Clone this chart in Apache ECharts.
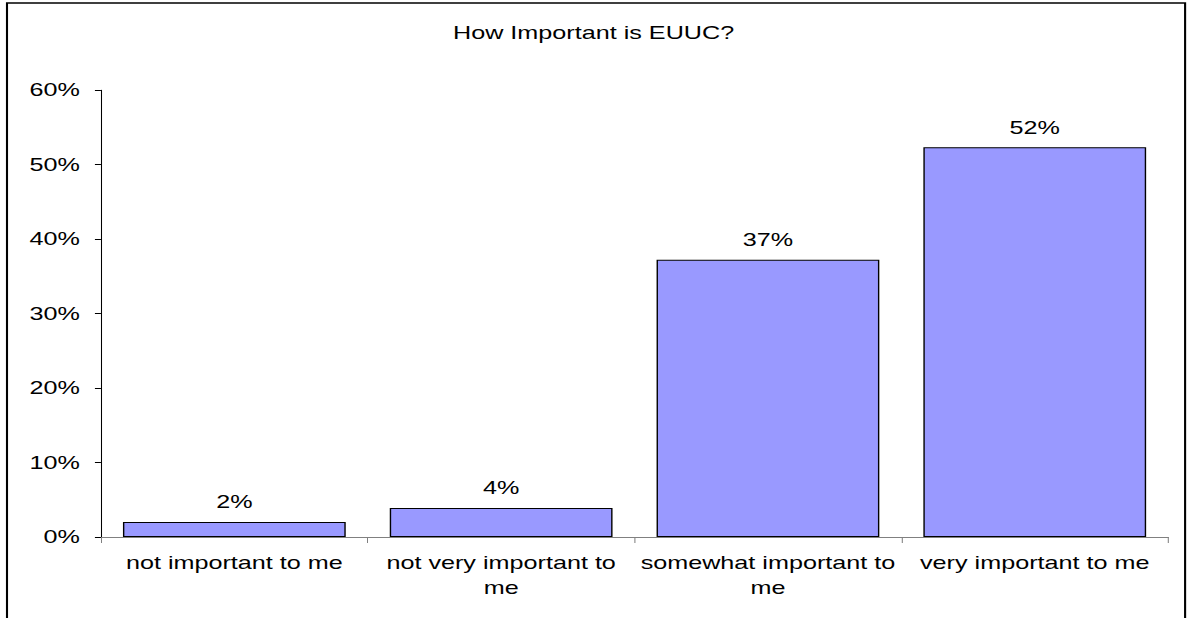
<!DOCTYPE html>
<html><head><meta charset="utf-8">
<script src="https://cdn.jsdelivr.net/npm/echarts@6/dist/echarts.min.js"></script>
<style>
html,body{margin:0;padding:0;background:#fff;overflow:hidden}
#wrap{width:1187px;height:618px;overflow:hidden}
#c{width:848px;height:618px;transform:scaleX(1.4);transform-origin:0 0}
</style>
</head><body><div id="wrap"><div id="c"></div></div>
<script>
const title = 'How Important is EUUC?';
const categories = ['not important to me', 'not very important to me', 'somewhat important to me', 'very important to me'];
const values = [2, 3.9, 37.2, 52.3];
const labels = ['2%', '4%', '37%', '52%'];
const yTicks = [0, 10, 20, 30, 40, 50, 60];

const chart = echarts.init(document.getElementById('c'), null, {renderer: 'svg'});
const font = 'Liberation Sans, Arial, sans-serif';
chart.setOption({
  animation: false,
  backgroundColor: '#fff',
  title: {text: title, left: 'center', top: 19, textStyle: {fontFamily: font, fontSize: 18, fontWeight: 'normal', color: '#000'}},
  graphic: [{type: 'rect', shape: {x: 5, y: 3, width: 841.5, height: 640}, style: {fill: 'none', stroke: '#000', lineWidth: 1.5}, silent: true}],
  grid: {left: 72.1, right: 13.6, top: 90, bottom: 81, containLabel: false},
  xAxis: {
    type: 'category', data: categories,
    axisLine: {lineStyle: {color: '#808080', width: 1}},
    axisTick: {show: true, alignWithLabel: false, length: 6, lineStyle: {color: '#808080', width: 0.75}},
    axisLabel: {fontFamily: font, fontSize: 18, color: '#000', margin: 13, lineHeight: 25, interval: 0,
      formatter: v => v.length > 20 ? v.replace(/ (\S+)$/, '\n$1') : v}
  },
  yAxis: {
    type: 'value', min: 0, max: 60, interval: 10,
    axisLine: {show: true, lineStyle: {color: '#000', width: 0.75}},
    axisTick: {show: true, length: 4.3, lineStyle: {color: '#000'}},
    splitLine: {show: false},
    axisLabel: {fontFamily: font, fontSize: 18, color: '#000', margin: 15,
      formatter: v => yTicks.includes(v) ? v + '%' : ''}
  },
  series: [{
    type: 'bar', data: values, barCategoryGap: '16.5%',
    itemStyle: {color: '#9999FF', borderColor: '#000', borderWidth: 1},
    label: {show: true, position: 'top', distance: 11, fontFamily: font, fontSize: 18, color: '#000',
      formatter: p => labels[p.dataIndex]}
  }]
});
</script></body></html>
